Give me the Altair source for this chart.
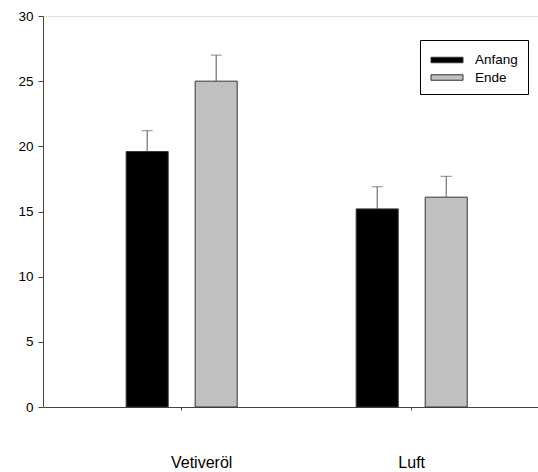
import altair as alt
import pandas as pd

# Mean values with upper standard errors per condition and phase
groups = ["Vetiveröl", "Vetiveröl", "Luft", "Luft"]
phases = ["Anfang", "Ende", "Anfang", "Ende"]
means = [19.6, 25.0, 15.2, 16.1]
errors = [1.6, 2.0, 1.7, 1.6]

group_order = ["Vetiveröl", "Luft"]
phase_order = ["Anfang", "Ende"]
phase_colors = ["#000000", "#c0c0c0"]
y_ticks = [0, 5, 10, 15, 20, 25, 30]

df = pd.DataFrame({"Gruppe": groups, "Phase": phases, "Wert": means, "Fehler": errors})
df["Oben"] = df["Wert"] + df["Fehler"]

FONT = "Liberation Sans"

x_enc = alt.X(
    "Gruppe:N",
    sort=group_order,
    scale=alt.Scale(paddingInner=0, paddingOuter=0.076, align=0.677),
    axis=alt.Axis(
        title=None, labelAngle=0, labelFontSize=16, labelFont=FONT, labelColor="#000",
        labelPadding=44, tickSize=3, domainColor="#444", tickColor="#444", grid=False,
        labelOffset={"condition": {"test": "datum.value === 'Vetiveröl'", "value": 20}, "value": 0},
    ),
)
xoff_enc = alt.XOffset(
    "Phase:N", sort=phase_order, scale=alt.Scale(paddingInner=0.391, paddingOuter=0.862)
)
y_scale = alt.Scale(domain=[0, 30], nice=False)

bars = alt.Chart(df).mark_bar(stroke="#333", strokeWidth=1).encode(
    x=x_enc,
    xOffset=xoff_enc,
    y=alt.Y(
        "Wert:Q",
        scale=y_scale,
        axis=alt.Axis(
            title=None, values=y_ticks, labelFontSize=13.5, labelFont=FONT, labelColor="#000",
            labelPadding=5, tickSize=5, domainColor="#444", tickColor="#444", grid=False,
        ),
    ),
    color=alt.Color(
        "Phase:N",
        sort=phase_order,
        scale=alt.Scale(domain=phase_order, range=phase_colors),
        legend=alt.Legend(
            title=None,
            orient="none",
            legendX=377,
            legendY=24,
            padding=9.5,
            strokeColor="#000",
            fillColor="#fff",
            symbolType="M-1.6,-0.275L1.6,-0.275L1.6,0.275L-1.6,0.275Z",
            symbolSize=400,
            symbolOffset=7,
            symbolStrokeColor="#333",
            symbolStrokeWidth=1,
            symbolOpacity=1,
            labelOffset=17.5,
            labelFontSize=13.5,
            labelFont=FONT,
            labelColor="#000",
            rowPadding=0.5,
            labelExpr="datum.label + '\u00a0\u00a0\u00a0\u00a0'",
        ),
    ),
)

stems = alt.Chart(df).mark_rule(color="#555", strokeWidth=1).encode(
    x=alt.X("Gruppe:N", sort=group_order),
    xOffset=alt.XOffset("Phase:N", sort=phase_order),
    y=alt.Y("Wert:Q", scale=y_scale),
    y2="Oben:Q",
)

caps = alt.Chart(df).mark_tick(color="#555", thickness=1, size=11).encode(
    x=alt.X("Gruppe:N", sort=group_order),
    xOffset=alt.XOffset("Phase:N", sort=phase_order),
    y=alt.Y("Oben:Q", scale=y_scale),
)

chart = (
    alt.layer(bars, stems, caps)
    .properties(
        width=495,
        height=391,
        autosize=alt.AutoSizeParams(type="none"),
        padding={"left": 43, "top": 16, "right": 0, "bottom": 65},
    )
    .configure_view(stroke=None)
    .configure(background="#ffffff")
)

chart.save("out.html", embed_options={"renderer": "svg", "actions": False})
